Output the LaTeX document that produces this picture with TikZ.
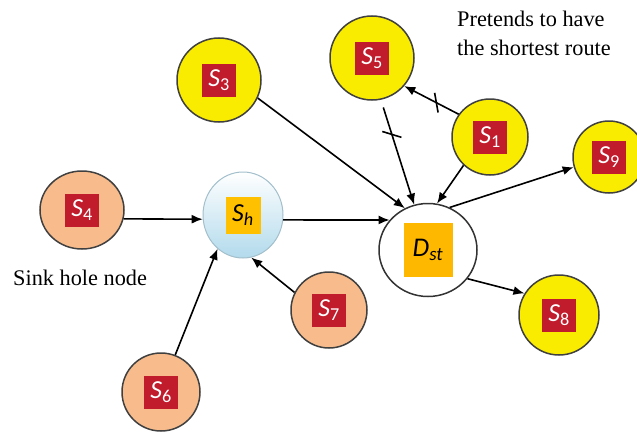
\documentclass[tikz,border=0pt]{standalone}
\usepackage{fontspec}
\setmainfont{Liberation Serif}
\newfontfamily\tagfont{Carlito}
\usetikzlibrary{arrows.meta, shapes.geometric}

\definecolor{sensoryellow}{RGB}{250,236,0}
\definecolor{sinkpeach}{RGB}{248,188,140}
\definecolor{tagred}{RGB}{192,28,44}
\definecolor{taggold}{RGB}{255,192,0}
\definecolor{dstgold}{RGB}{255,184,0}
\definecolor{sinkblue}{RGB}{178,218,236}

\newcommand{\tagtext}[2]{\textit{#1}\textsubscript{#2}}

\tikzset{
  yellownode/.style={circle, draw=black!75, line width=1.5pt, fill=sensoryellow, minimum size=#1},
  peachnode/.style={ellipse, draw=black!75, line width=1.5pt, fill=sinkpeach, minimum width=#1, minimum height=#1},
  redtag/.style={fill=tagred, text=white, minimum width=34pt, minimum height=33pt, inner sep=0pt,
    font=\tagfont\fontsize{26}{26}\selectfont},
  note/.style={font=\fontsize{22.3}{29}\selectfont, align=left, inner sep=0pt},
  link/.style={->, line width=1.6pt},
  cutmark/.style={line width=1.6pt}
}

\begin{document}
\begin{tikzpicture}[x=1pt, y=-1pt, >={Latex[length=11pt, width=9pt]}]
        \useasboundingbox (0,0) rectangle (637,431);

        % Sensor nodes
        \node[yellownode=84pt] (s3) at (219,80) {};
        \node[yellownode=84pt] (s5) at (372,58) {};
        \node[yellownode=76pt] (s1) at (490,137) {};
        \node[yellownode=72pt] (s9) at (609,157) {};
        \node[yellownode=80pt] (s8) at (559,315) {};
        \node[peachnode=78pt, minimum width=84pt] (s4) at (82,210) {};
        \node[peachnode=76pt] (s7) at (329,310) {};
        \node[peachnode=78pt] (s6) at (161,392) {};
        \foreach \s in {3,5,1,9,8,4,7,6} {
            \node[redtag] (s\s tag) at (s\s) {\tagtext{S}{\s}};
        }

        % Sink hole
        \node[ellipse, draw=sinkblue!70!gray, line width=1pt, top color=white, bottom color=sinkblue,
              minimum width=80pt, minimum height=86pt] (sh) at (243,215) {};
        \node[fill=taggold, minimum width=35pt, minimum height=37pt, inner sep=0pt,
              font=\tagfont\fontsize{26}{26}\selectfont] (shtag) at (sh) {\tagtext{S}{\textit{h}}};

        % Destination
        \node[ellipse, draw=black!80, line width=1.5pt, fill=white,
              minimum width=98pt, minimum height=93pt] (dst) at (428,250) {};
        \node[fill=dstgold, minimum width=49pt, minimum height=54pt, inner sep=0pt,
              font=\tagfont\fontsize{27}{27}\selectfont] (dsttag) at (dst) {\tagtext{D}{\textit{st}}};

        % Links into the destination
        \draw[link] (s3.-25) -- (dst.119);
        \draw[link, shorten <=8pt] (s5.-78) -- coordinate[pos=0.33] (cut5) (dst.107);
        \draw[link] (s1.-133) -- (dst.79);
        \draw[link] (sh.-7) -- (dst.142);

        % Links out of the destination
        \draw[link] (dst.63) -- (s9.-164);
        \draw[link] (dst.-36) -- (s8.148);

        % Links into the sink hole
        \draw[link] (s4.-12) -- (sh.186);
        \draw[link] (s6.69) -- (sh.-127);
        \draw[link] (s7.153) -- (sh.-79);

        % Cut route from S1
        \draw[link] (s1.144) -- coordinate[pos=0.41] (cut1) (s5.-41);
        \draw[cutmark] (cut1) ++(100:10pt) -- ++(-80:20pt);
        \draw[cutmark] (cut5) ++(163:10pt) -- ++(-17:20pt);

        % Labels
        \node[note, anchor=west] (pretends) at (457,33) {Pretends to have\\the shortest route};
        \node[note, anchor=west] (sinklabel) at (13,278) {Sink hole node};
    \end{tikzpicture}
\end{document}
